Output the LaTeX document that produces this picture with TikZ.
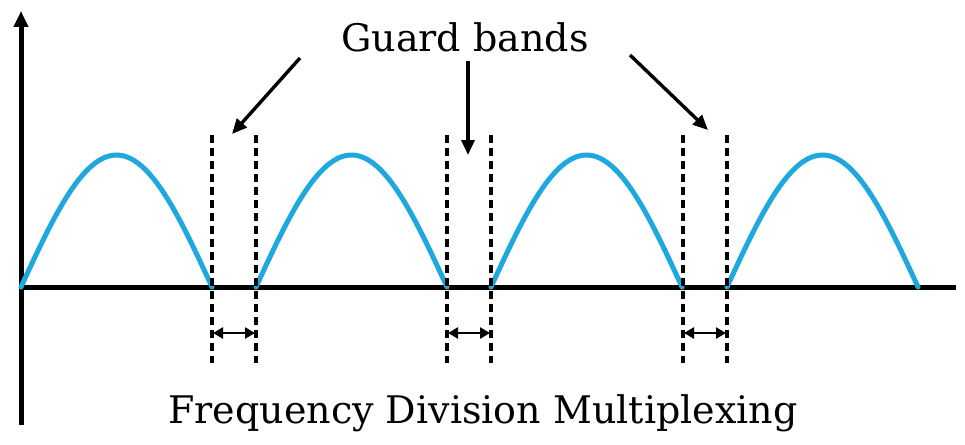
\documentclass[tikz,border=0pt]{standalone}
\usepackage{fontspec}
\setmainfont{DejaVu Serif}
\usepackage{tikz}
\usepackage{xcolor}
\definecolor{fdmblue}{RGB}{30, 168, 222}
\usetikzlibrary{arrows.meta,positioning}

\begin{document}
\begin{tikzpicture}[x=1pt,y=-1pt,
    axis/.style={line width=5pt},
    carrier/.style={fdmblue, line width=5pt, line cap=round},
    guard/.style={line width=3.6pt, dash pattern=on 8pt off 5pt},
    pointer/.style={-{Triangle[length=15pt,width=13pt]}, line width=3.4pt},
    gap/.style={{Triangle[length=10pt,width=11pt]}-{Triangle[length=10pt,width=11pt]}, line width=2.8pt, shorten <=1pt, shorten >=1pt},
    label/.style={font=\fontsize{38}{44}\selectfont, inner sep=0pt}]
    \useasboundingbox (0,0) rectangle (965,444);

    % Axes
    \coordinate (origin) at (21,287);
    \coordinate (ytop) at (21,11);
    \coordinate (ybot) at (21,425);
    \coordinate (xend) at (956,287);
    \draw[axis, -{Triangle[length=16pt,width=14pt]}] (ybot) -- (ytop);
    \draw[axis] (origin) -- (xend);

    % Carriers
    \foreach \s in {21, 256, 491, 727} {
        \draw[carrier] plot[domain=0:191, samples=60] ({\s+\x}, {287-132*sin(0.9424*\x)});
    }

    % Guard bands
    \foreach \a/\b/\i in {212/256/1, 447/491/2, 683/727/3} {
        \coordinate (gl\i) at (\a,333);
        \coordinate (gr\i) at (\b,333);
        \draw[guard] (\a,135) -- (\a,363);
        \draw[guard] (\b,135) -- (\b,363);
        \draw[gap] (gl\i) -- (gr\i);
    }

    % Labels
    \node[label, anchor=base] (guardtxt) at (465,52) {Guard bands};
    \node[label, anchor=base] (fdmtxt) at (483,423) {Frequency Division Multiplexing};

    % Pointers
    \coordinate (p1) at (300,58);
    \coordinate (t1) at (232,134);
    \coordinate (p2) at (468,61);
    \coordinate (t2) at (468,155);
    \coordinate (p3) at (630,55);
    \coordinate (t3) at (708,130);
    \foreach \i in {1,2,3} {
        \draw[pointer] (p\i) -- (t\i);
    }
\end{tikzpicture}
\end{document}
